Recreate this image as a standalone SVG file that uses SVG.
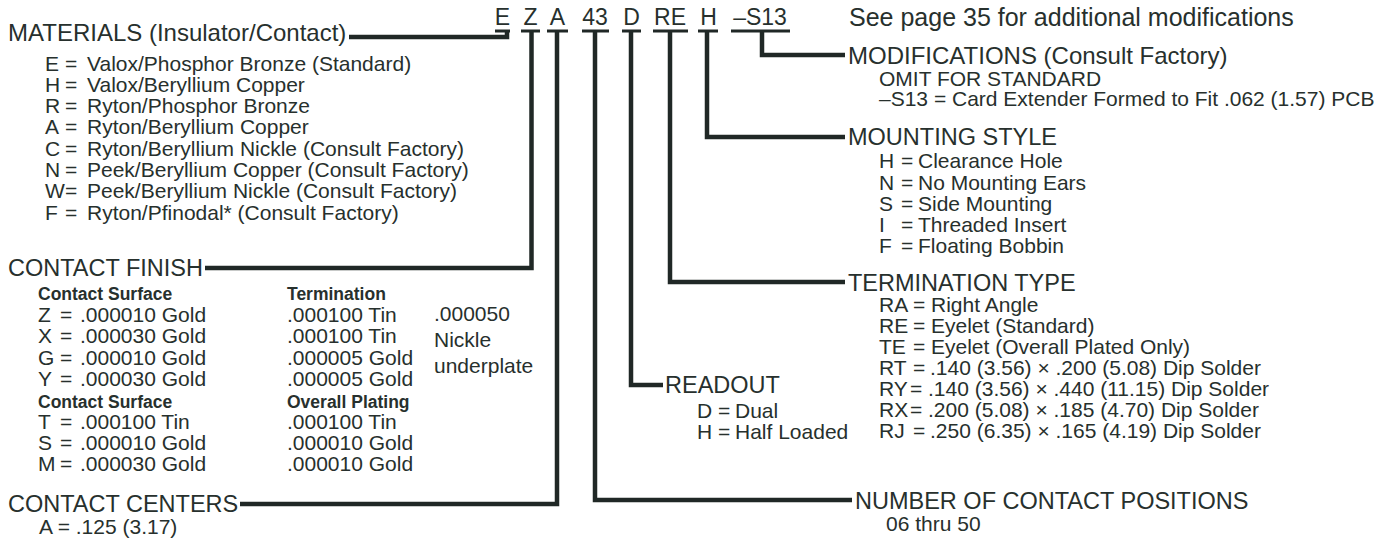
<svg xmlns="http://www.w3.org/2000/svg" width="1395" height="538" viewBox="0 0 1395 538">
<style>
text { font-family: "Liberation Sans", Arial, Helvetica, sans-serif; fill: #27302d; }
.code { font-size: 23px; text-anchor: middle; }
.hdr { font-size: 23.5px; }
.hdr-l { font-size: 24px; }
.note { font-size: 25px; }
.sub { font-size: 21px; }
.bold { font-size: 17.5px; font-weight: bold; }
.conn { fill: none; stroke: #202826; stroke-width: 4.5; stroke-linejoin: miter; stroke-linecap: butt; }
.ul { stroke: #202826; stroke-width: 3; }
</style>
<rect width="1395" height="538" fill="#ffffff"/>

<g id="part-code">
  <text class="code" x="502.5" y="25">E</text>
  <text class="code" x="530.5" y="25">Z</text>
  <text class="code" x="557.5" y="25">A</text>
  <text class="code" x="595" y="25">43</text>
  <text class="code" x="631.5" y="25">D</text>
  <text class="code" x="670" y="25">RE</text>
  <text class="code" x="708.5" y="25">H</text>
  <text class="code" x="760" y="25">–S13</text>
  <line class="ul" x1="495" y1="31" x2="510" y2="31"/>
  <line class="ul" x1="521" y1="31" x2="540" y2="31"/>
  <line class="ul" x1="547" y1="31" x2="568" y2="31"/>
  <line class="ul" x1="582" y1="31" x2="609" y2="31"/>
  <line class="ul" x1="622" y1="31" x2="641" y2="31"/>
  <line class="ul" x1="653" y1="31" x2="688" y2="31"/>
  <line class="ul" x1="698" y1="31" x2="718" y2="31"/>
  <line class="ul" x1="731" y1="31" x2="790" y2="31"/>
</g>

<g id="connectors" class="conn">
  <path d="M349,37 H507 V31"/>
  <path d="M531.5,31 V268 H205"/>
  <path d="M557,31 V504 H240"/>
  <path d="M595,31 V500 H852"/>
  <path d="M631,31 V385 H663"/>
  <path d="M670,31 V282 H845"/>
  <path d="M707,31 V137 H845"/>
  <path d="M762,31 V55 H845"/>
</g>

<g id="note">
  <text class="note" x="849" y="26">See page 35 for additional modifications</text>
</g>

<g id="materials">
  <text class="hdr-l" x="8" y="40.5">MATERIALS (Insulator/Contact)</text>
  <text class="sub" y="70.5"><tspan x="45">E</tspan><tspan x="65">=</tspan><tspan x="87">Valox/Phosphor Bronze (Standard)</tspan></text>
  <text class="sub" y="91.8"><tspan x="45">H</tspan><tspan x="65">=</tspan><tspan x="87">Valox/Beryllium Copper</tspan></text>
  <text class="sub" y="113.1"><tspan x="45">R</tspan><tspan x="65">=</tspan><tspan x="87">Ryton/Phosphor Bronze</tspan></text>
  <text class="sub" y="134.4"><tspan x="45">A</tspan><tspan x="65">=</tspan><tspan x="87">Ryton/Beryllium Copper</tspan></text>
  <text class="sub" y="155.7"><tspan x="45">C</tspan><tspan x="65">=</tspan><tspan x="87">Ryton/Beryllium Nickle (Consult Factory)</tspan></text>
  <text class="sub" y="177"><tspan x="45">N</tspan><tspan x="65">=</tspan><tspan x="87">Peek/Beryllium Copper (Consult Factory)</tspan></text>
  <text class="sub" y="198.3"><tspan x="45">W</tspan><tspan x="65">=</tspan><tspan x="87">Peek/Beryllium Nickle (Consult Factory)</tspan></text>
  <text class="sub" y="219.6"><tspan x="45">F</tspan><tspan x="65">=</tspan><tspan x="87">Ryton/Pfinodal* (Consult Factory)</tspan></text>
</g>

<g id="contact-finish">
  <text class="hdr" x="8" y="276">CONTACT FINISH</text>
  <text class="bold" x="38" y="300">Contact Surface</text>
  <text class="bold" x="287" y="300">Termination</text>
  <text class="sub" y="321.5"><tspan x="38">Z</tspan><tspan x="60">=</tspan><tspan x="80">.000010 Gold</tspan></text>
  <text class="sub" y="343"><tspan x="38">X</tspan><tspan x="60">=</tspan><tspan x="80">.000030 Gold</tspan></text>
  <text class="sub" y="364.5"><tspan x="38">G</tspan><tspan x="60">=</tspan><tspan x="80">.000010 Gold</tspan></text>
  <text class="sub" y="385.5"><tspan x="38">Y</tspan><tspan x="60">=</tspan><tspan x="80">.000030 Gold</tspan></text>
  <text class="sub" x="287" y="321.5">.000100 Tin</text>
  <text class="sub" x="287" y="343">.000100 Tin</text>
  <text class="sub" x="287" y="364.5">.000005 Gold</text>
  <text class="sub" x="287" y="385.5">.000005 Gold</text>
  <text class="sub" x="434" y="321">.000050</text>
  <text class="sub" x="434" y="347">Nickle</text>
  <text class="sub" x="434" y="373">underplate</text>
  <text class="bold" x="38" y="408">Contact Surface</text>
  <text class="bold" x="287" y="408">Overall Plating</text>
  <text class="sub" y="428.5"><tspan x="38">T</tspan><tspan x="60">=</tspan><tspan x="80">.000100 Tin</tspan></text>
  <text class="sub" y="450"><tspan x="38">S</tspan><tspan x="60">=</tspan><tspan x="80">.000010 Gold</tspan></text>
  <text class="sub" y="471"><tspan x="38">M</tspan><tspan x="60">=</tspan><tspan x="80">.000030 Gold</tspan></text>
  <text class="sub" x="287" y="428.5">.000100 Tin</text>
  <text class="sub" x="287" y="450">.000010 Gold</text>
  <text class="sub" x="287" y="471">.000010 Gold</text>
</g>

<g id="contact-centers">
  <text class="hdr" x="8" y="512">CONTACT CENTERS</text>
  <text class="sub" x="39" y="534">A = .125 (3.17)</text>
</g>

<g id="modifications">
  <text class="hdr-l" x="848" y="63.5">MODIFICATIONS (Consult Factory)</text>
  <text class="sub" x="879" y="85.5">OMIT FOR STANDARD</text>
  <text class="sub" x="879" y="106">–S13 = Card Extender Formed to Fit .062 (1.57) PCB</text>
</g>

<g id="mounting-style">
  <text class="hdr" x="848" y="145">MOUNTING STYLE</text>
  <text class="sub" y="168"><tspan x="879">H</tspan><tspan x="901">=</tspan><tspan x="918">Clearance Hole</tspan></text>
  <text class="sub" y="189.5"><tspan x="879">N</tspan><tspan x="901">=</tspan><tspan x="918">No Mounting Ears</tspan></text>
  <text class="sub" y="211"><tspan x="879">S</tspan><tspan x="901">=</tspan><tspan x="918">Side Mounting</tspan></text>
  <text class="sub" y="232"><tspan x="879">I</tspan><tspan x="901">=</tspan><tspan x="918">Threaded Insert</tspan></text>
  <text class="sub" y="253"><tspan x="879">F</tspan><tspan x="901">=</tspan><tspan x="918">Floating Bobbin</tspan></text>
</g>

<g id="termination-type">
  <text class="hdr" x="848" y="290.5">TERMINATION TYPE</text>
  <text class="sub" y="312"><tspan x="879">RA</tspan><tspan x="913">=</tspan><tspan x="931">Right Angle</tspan></text>
  <text class="sub" y="333"><tspan x="879">RE</tspan><tspan x="913">=</tspan><tspan x="931">Eyelet (Standard)</tspan></text>
  <text class="sub" y="354"><tspan x="879">TE</tspan><tspan x="913">=</tspan><tspan x="931">Eyelet (Overall Plated Only)</tspan></text>
  <text class="sub" y="375"><tspan x="879">RT</tspan><tspan x="913">=</tspan><tspan x="930">.140 (3.56) × .200 (5.08) Dip Solder</tspan></text>
  <text class="sub" y="396"><tspan x="879">RY</tspan><tspan x="910">=</tspan><tspan x="928">.140 (3.56) × .440 (11.15) Dip Solder</tspan></text>
  <text class="sub" y="417"><tspan x="879">RX</tspan><tspan x="910">=</tspan><tspan x="928">.200 (5.08) × .185 (4.70) Dip Solder</tspan></text>
  <text class="sub" y="438"><tspan x="879">RJ</tspan><tspan x="913">=</tspan><tspan x="930">.250 (6.35) × .165 (4.19) Dip Solder</tspan></text>
</g>

<g id="readout">
  <text class="hdr" x="665" y="393">READOUT</text>
  <text class="sub" y="418"><tspan x="697">D</tspan><tspan x="718">=</tspan><tspan x="735">Dual</tspan></text>
  <text class="sub" y="439"><tspan x="697">H</tspan><tspan x="718">=</tspan><tspan x="735">Half Loaded</tspan></text>
</g>

<g id="contact-positions">
  <text class="hdr" x="855" y="509">NUMBER OF CONTACT POSITIONS</text>
  <text class="sub" x="886" y="531">06 thru 50</text>
</g>
</svg>
